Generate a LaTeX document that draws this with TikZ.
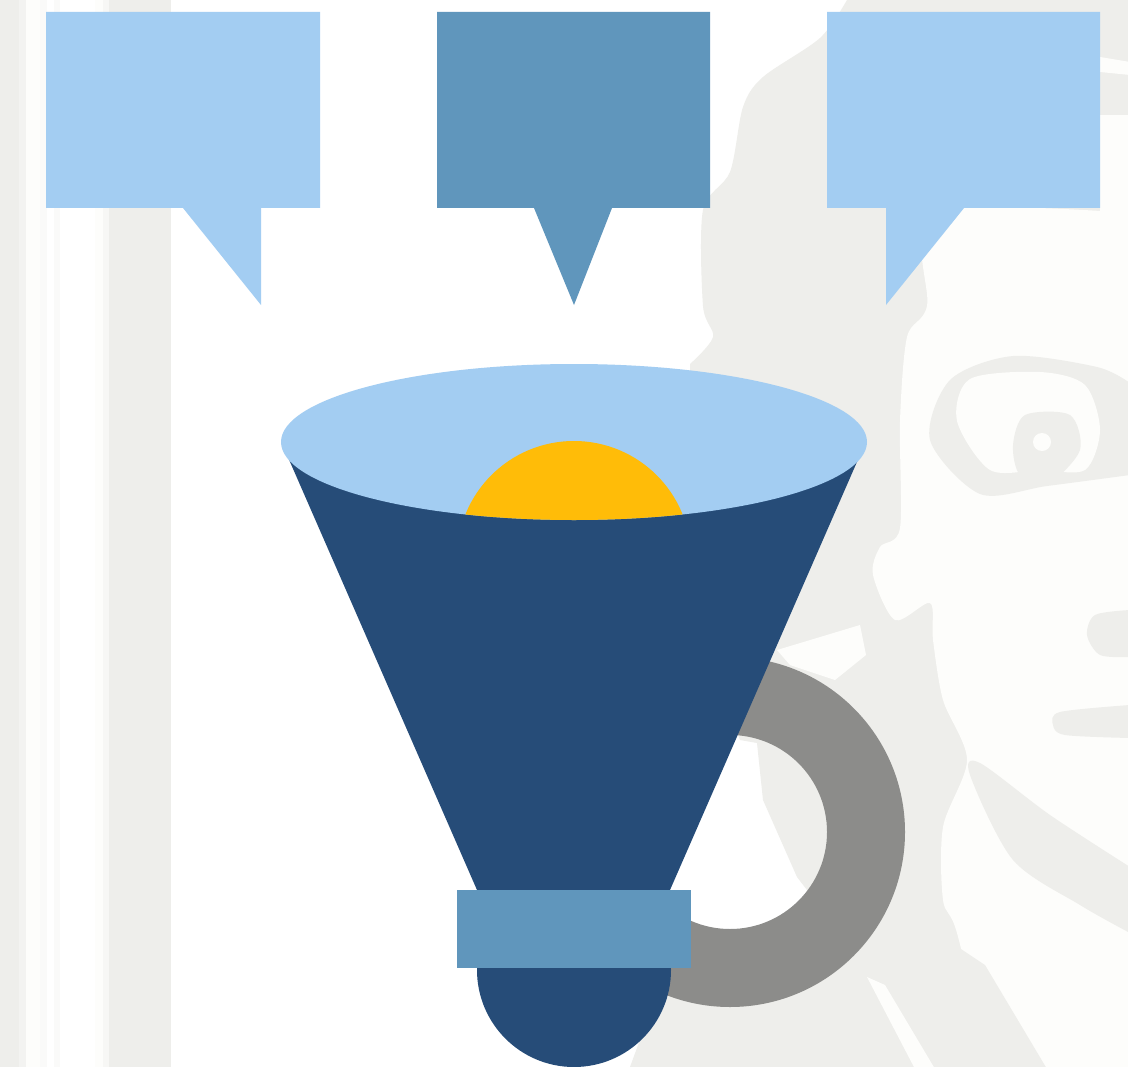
\documentclass[tikz,border=0pt]{standalone}
\usepackage{tikz}
\definecolor{lightblue}{RGB}{163,205,242}
\definecolor{midblue}{RGB}{96,150,188}
\definecolor{darkblue}{RGB}{38,76,120}
\definecolor{sunyellow}{RGB}{255,188,8}
\definecolor{ringgray}{RGB}{140,140,138}
\definecolor{bgshade}{RGB}{238,238,235}
\definecolor{paper}{RGB}{253,253,251}

\begin{document}
\begin{tikzpicture}[x=0.02cm,y=-0.02cm,
  shadearea/.style={fill=bgshade},
  paperarea/.style={fill=paper}]
\useasboundingbox (0,0) rectangle (1128,1067);
\fill[white] (0,0) rectangle (1128,1067);
% faint stripes on the left
\fill[bgshade] (0,0) rectangle (19,1067);
\fill[bgshade!70] (19,0) rectangle (26,1067);
\fill[paper] (26,0) rectangle (40,1067);
\fill[bgshade!30] (40,0) rectangle (47,1067);
\fill[bgshade!30] (54,0) rectangle (60,1067);
\fill[paper] (95,0) rectangle (103,1067);
\fill[bgshade!50] (103,0) rectangle (109,1067);
\fill[bgshade] (109,0) rectangle (171,1067);
% faint head on the right
\fill[shadearea] plot[smooth] coordinates {(847,0) (820,38) (763,77) (743,107) (730,172) (703,210) (703,306) (713,337) (690,364)}
  -- (700,640) -- (740,740) -- (757,743) -- (763,800) -- (797,877) -- (830,920) -- (700,960) -- (660,985) -- (630,1067) -- (1128,1067) -- (1128,0) -- cycle;
\fill[paperarea] plot[smooth] coordinates {(1130,213) (935,213) (927,306) (907,337) (900,421) (900,528) (880,547) (873,575) (895,620) (930,603) (933,640) (943,700) (967,760) (943,827) (943,900) (957,933) (990,1069)}
  -- (1130,1069) -- cycle;
\fill[paperarea] (1100,57) -- (1130,62) -- (1130,75) -- (1100,72) -- cycle;
\fill[paperarea] (1100,115) -- (1130,115) -- (1130,213) -- (1100,213) -- cycle;
\fill[paperarea] (777,650) -- (860,625) -- (866,655) -- (835,680) -- (790,665) -- cycle;
\fill[paperarea] (867,977) -- (885,985) -- (935,1069) -- (915,1069) -- cycle;
% eye
\fill[shadearea] plot[smooth] coordinates {(1130,383) (1097,367) (1013,356) (950,380) (930,440) (980,494) (1047,486) (1130,475)} -- cycle;
\fill[paperarea] plot[smooth cycle] coordinates {(957,421) (970,379) (1040,372) (1085,385) (1100,430) (1085,470) (1040,470) (990,470)};
\fill[shadearea] plot[smooth cycle] coordinates {(1013,445) (1025,415) (1070,415) (1080,450) (1050,482) (1020,475)};
\fill[paper] (1042,442) circle [radius=9];
% nose, mouth and folds
\fill[shadearea] plot[smooth] coordinates {(1130,610) (1095,615) (1087,635) (1100,655) (1130,657)} -- cycle;
\fill[shadearea] plot[smooth] coordinates {(1130,705) (1060,712) (1053,725) (1065,735) (1130,738)} -- cycle;
\fill[shadearea] plot[smooth] coordinates {(1130,867) (1050,815) (980,763) (970,775) (1013,860) (1080,905) (1130,933)} -- cycle;
\fill[shadearea] (955,945) -- (985,965) -- (1047,1069) -- (990,1069) -- cycle;
% speech bubbles
\fill[lightblue] (46,12) -- (320,12) -- (320,208) -- (261,208) -- (261,305) -- (183,208) -- (46,208) -- cycle;
\fill[midblue] (437,12) -- (710,12) -- (710,208) -- (612,208) -- (574,305) -- (534,208) -- (437,208) -- cycle;
\fill[lightblue] (827,12) -- (1100,12) -- (1100,208) -- (964,208) -- (886,305) -- (886,208) -- (827,208) -- cycle;
% ring behind the funnel
\fill[ringgray,even odd rule] (730,832) circle [radius=175] (730,832) circle [radius=97];
% funnel
\fill[darkblue] (287,455) -- (477,890) -- (477,970) -- (670,970) -- (670,890) -- (860,455) -- cycle;
\fill[darkblue] (574,970) circle [radius=97];
\fill[lightblue] (574,442) ellipse [x radius=293,y radius=78];
\begin{scope}
\clip (574,442) ellipse [x radius=293,y radius=78];
\fill[sunyellow] (574,558) circle [radius=117];
\end{scope}
\fill[midblue] (457,890) rectangle (691,968);
\end{tikzpicture}
\end{document}
